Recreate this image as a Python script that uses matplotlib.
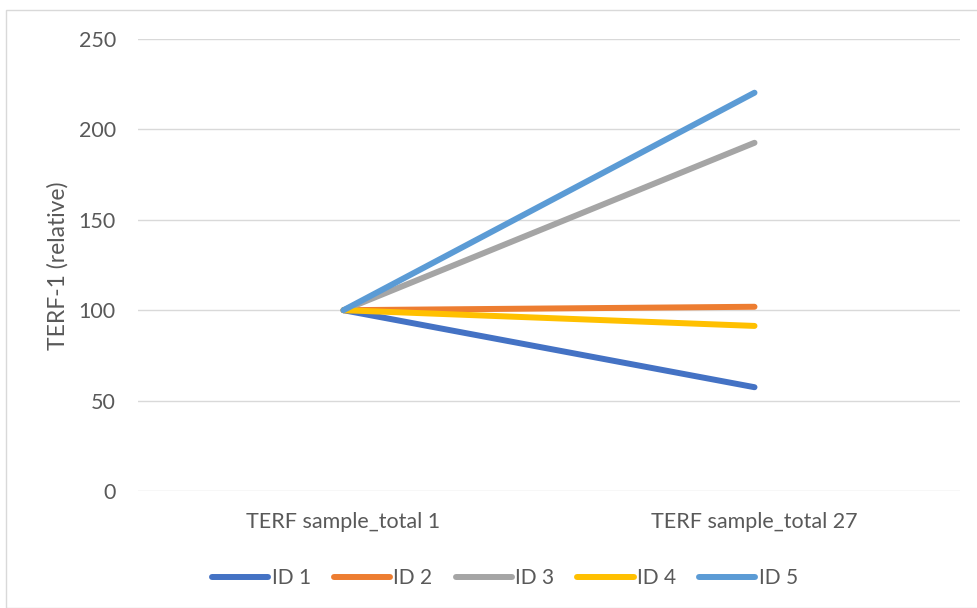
import matplotlib
matplotlib.use("Agg")
import matplotlib.pyplot as plt
from matplotlib.patches import Rectangle

categories = ["TERF sample_total 1", "TERF sample_total 27"]
series_names = ["ID 1", "ID 2", "ID 3", "ID 4", "ID 5"]
id1 = [100, 57.4]
id2 = [100, 101.9]
id3 = [100, 192.6]
id4 = [100, 91.3]
id5 = [100, 220.3]
colors = ["#4472C4", "#ED7D31", "#A5A5A5", "#FFC000", "#5B9BD5"]
yticks = [0, 50, 100, 150, 200, 250]

plt.rcParams['font.family'] = ['Lato', 'DejaVu Sans']
text_color = "#595959"

W, H = 977, 608
fig = plt.figure(figsize=(W / 100, H / 100), dpi=100)
fig.patch.set_facecolor("white")

# chart area border
fig.add_artist(Rectangle((6 / W, 0), 1.0, 1 - 10 / H, transform=fig.transFigure,
                         fill=False, edgecolor="#D9D9D9", linewidth=1.0))

ax = fig.add_axes([138 / W, 1 - 491 / H, (960 - 138) / W, (491 - 39) / H])
x = [0.5, 1.5]
for vals, name, c in zip([id1, id2, id3, id4, id5], series_names, colors):
    ax.plot(x, vals, color=c, linewidth=4.3, solid_capstyle="round", label=name)

ax.set_xlim(0, 2)
ax.set_ylim(0, 250)
ax.set_yticks(yticks)
ax.set_xticks(x)
ax.set_xticklabels(categories)
ax.grid(axis="y", color="#D9D9D9", linewidth=1.0)
ax.set_axisbelow(True)
for s in ax.spines.values():
    s.set_visible(False)
ax.tick_params(axis="both", length=0, labelsize=15.5, colors=text_color)
ax.tick_params(axis="y", pad=16)
ax.tick_params(axis="x", pad=15)
ax.set_ylabel("TERF-1 (relative)", fontsize=16.5, color=text_color)
ax.yaxis.set_label_coords(58 / W, 1 - 266 / H, transform=fig.transFigure)
ax.yaxis.label.set_verticalalignment("center")

leg = fig.legend(loc="center", bbox_to_anchor=(505 / W, 1 - 578 / H), ncol=5,
                 frameon=False, fontsize=15, handlelength=2.7, handletextpad=0.17,
                 columnspacing=1.1, labelcolor=text_color)

fig.savefig("out.png", dpi=100, facecolor="white")
